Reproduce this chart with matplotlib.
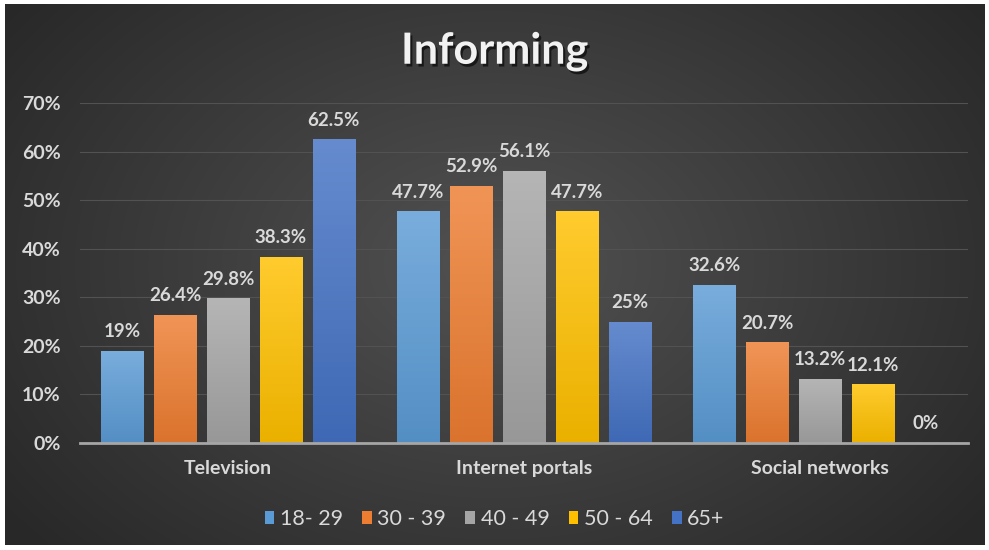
import matplotlib
matplotlib.use("Agg")
import matplotlib.pyplot as plt
import matplotlib.patheffects as pe
from matplotlib.colors import LinearSegmentedColormap, to_rgb
from matplotlib.patches import Patch
import numpy as np

categories = ["Television", "Internet portals", "Social networks"]
age_groups = ["18- 29", "30 - 39", "40 - 49", "50 - 64", "65+"]
g18_29 = [19, 47.7, 32.6]
g30_39 = [26.4, 52.9, 20.7]
g40_49 = [29.8, 56.1, 13.2]
g50_64 = [38.3, 47.7, 12.1]
g65 = [62.5, 25, 0]
yticks = [0, 10, 20, 30, 40, 50, 60, 70]

series = [g18_29, g30_39, g40_49, g50_64, g65]
colors = ["#5B9BD5", "#ED7D31", "#A5A5A5", "#FFC000", "#4472C4"]
TXT = "#D9D9D9"

plt.rcParams["font.family"] = ["Lato", "DejaVu Sans"]

fig = plt.figure(figsize=(9.89, 5.5), dpi=100)
fig.patch.set_facecolor("white")

# radial dark backdrop of the chart area
bg = fig.add_axes([0, 0, 1, 1], zorder=-10)
bg.set_xlim(0, 989)
bg.set_ylim(550, 0)
bg.axis("off")
yy, xx = np.mgrid[0:540, 0:980]
r = np.sqrt(((xx - 490) / 600) ** 2 + ((yy - 260) / 420) ** 2)
shade = np.clip(0.32 - 0.16 * r, 0.16, 0.32)
bg.imshow(np.dstack([shade, shade, shade]), extent=(5, 985, 545, 4),
          aspect="auto", interpolation="bilinear")

ax = fig.add_axes([80 / 989, 1 - 443 / 550, 888 / 989, 340 / 550])
ax.patch.set_alpha(0)

x = np.arange(len(categories))
pitch = 0.1786
width = 0.143
for i, (vals, col, lab) in enumerate(zip(series, colors, age_groups)):
    off = (i - 2) * pitch
    bars = ax.bar(x + off, vals, width, color=col, label=lab, zorder=3)
    # soft vertical gradient: lighter at the top
    c = np.array(to_rgb(col))
    cmap = LinearSegmentedColormap.from_list(
        "g", [c * 0.92, np.clip(c + (1 - c) * 0.18, 0, 1)])
    for b, v in zip(bars, vals):
        if v > 0:
            im = ax.imshow(np.linspace(0, 1, 64).reshape(-1, 1), cmap=cmap,
                           origin="lower", aspect="auto", zorder=4,
                           extent=(b.get_x(), b.get_x() + b.get_width(), 0, v))
            im.set_clip_path(b)
        ax.text(b.get_x() + b.get_width() / 2, v + 2.2, f"{v:g}%",
                ha="center", va="bottom", color=TXT, fontsize=13.5,
                fontweight="bold", zorder=5)

ax.set_xlim(-0.5, 2.5)
ax.set_ylim(0, 70)
ax.set_yticks(yticks)
ax.set_yticklabels([f"{t}%" for t in yticks])
ax.set_xticks(x)
ax.set_xticklabels(categories)
ax.tick_params(axis="both", length=0, colors=TXT, labelsize=14)
ax.tick_params(axis="y", pad=14)
ax.tick_params(axis="x", pad=12)
for t in ax.get_xticklabels() + ax.get_yticklabels():
    t.set_fontweight("bold")
ax.grid(axis="y", color="#525252", linewidth=0.8, zorder=0)
for s in ["top", "right", "left"]:
    ax.spines[s].set_visible(False)
ax.spines["bottom"].set_color("#A6A6A6")
ax.spines["bottom"].set_linewidth(2)
ax.spines["bottom"].set_zorder(6)

fig.text(0.5, 1 - 51 / 550, "Informing", ha="center", va="center",
         color="#F2F2F2", fontsize=31, fontweight="bold",
         path_effects=[pe.withSimplePatchShadow(offset=(1.5, -2),
                                                shadow_rgbFace="black",
                                                alpha=0.6)])

handles = [Patch(facecolor=c, label=l) for c, l in zip(colors, age_groups)]
fig.legend(handles=handles, loc="center", ncol=5,
           bbox_to_anchor=(0.5, 1 - 519 / 550), frameon=False,
           fontsize=15.5, labelcolor=TXT, handlelength=0.45,
           handleheight=0.6, handletextpad=0.25, columnspacing=0.9)

fig.savefig("out.png", dpi=100)
